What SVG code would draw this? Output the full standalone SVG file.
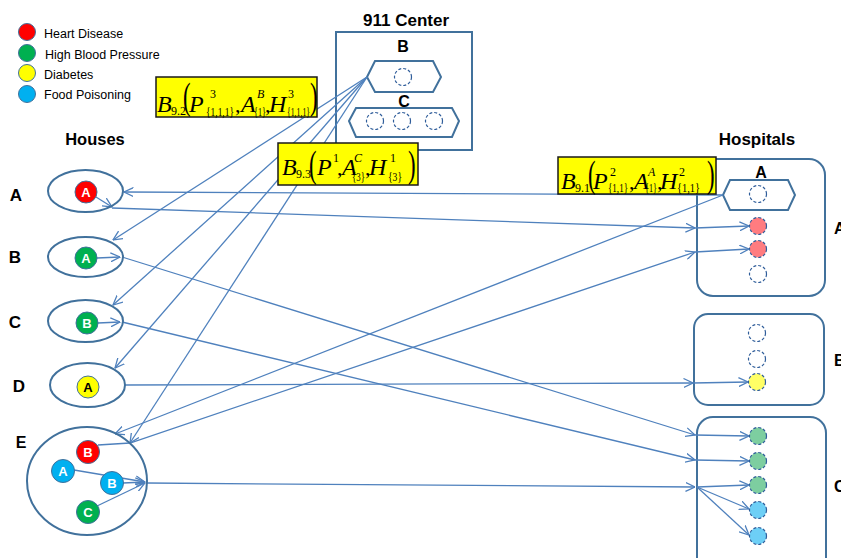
<svg xmlns="http://www.w3.org/2000/svg" width="841" height="558" viewBox="0 0 841 558">
<style>
.t{font-family:"Liberation Sans","Noto Sans",sans-serif;fill:#000}
.b{font-weight:bold}
.lg{font-size:12.5px}
.box{fill:none;stroke:#41719C;stroke-width:2}
.hex{fill:#fff;stroke:#41719C;stroke-width:2}
.el{fill:none;stroke:#41719C;stroke-width:2}
.dc{stroke:#2F5D9A;stroke-width:1.2;stroke-dasharray:3 2}
.cn{fill:none;stroke:#4F81BD;stroke-width:1.3}
.sc{stroke:#41719C;stroke-width:1}
.ct{font-family:"Liberation Sans","Noto Sans",sans-serif;font-weight:bold;font-size:13px;text-anchor:middle;fill:#fff}
.yl{fill:#FFFF00;stroke:#1a1a1a;stroke-width:1.5}
.m{font-family:"Liberation Serif","DejaVu Serif",serif;fill:#000}
.mi{font-style:italic;font-size:24px}
.mu{font-size:22px}
.ms{font-size:12px}
.mb{font-size:11.5px}
.mp{font-size:38px}
</style>
<defs>
<marker id="ar" viewBox="0 0 10 10" refX="9.5" refY="5" markerWidth="10" markerHeight="10" markerUnits="userSpaceOnUse" orient="auto">
<path d="M0,0.5 L9.5,5 L0,9.5" fill="none" stroke="#4F81BD" stroke-width="1.3"/>
</marker>
</defs>

<g id="legend">
<circle cx="27" cy="32" r="8.5" fill="#FF0000" class="sc"/>
<circle cx="27" cy="53" r="8.5" fill="#00B050" class="sc"/>
<circle cx="27" cy="73" r="8.5" fill="#FFFF00" class="sc"/>
<circle cx="27" cy="94" r="8.5" fill="#00B0F0" class="sc"/>
<text class="t lg" x="44" y="37.5">Heart Disease</text>
<text class="t lg" x="45" y="58.5">High Blood Pressure</text>
<text class="t lg" x="44" y="78.5">Diabetes</text>
<text class="t lg" x="44" y="98.5">Food Poisoning</text>
</g>

<g id="center911">
<text class="t b" x="406" y="26" font-size="17" text-anchor="middle">911 Center</text>
<rect class="box" x="336" y="32" width="136" height="118"/>
<text class="t b" x="403" y="52" font-size="16" text-anchor="middle">B</text>
<polygon class="hex" points="367,77 375,61 433,61 441,77 433,92 375,92"/>
<circle cx="403" cy="77" r="8.5" fill="none" class="dc"/>
<text class="t b" x="404" y="107" font-size="16" text-anchor="middle">C</text>
<polygon class="hex" points="349,121 356,108 452,108 459,121 452,137 356,137"/>
<circle cx="375" cy="121" r="8.5" fill="none" class="dc"/>
<circle cx="402" cy="121" r="8.5" fill="none" class="dc"/>
<circle cx="434" cy="121" r="8.5" fill="none" class="dc"/>
</g>

<g id="hospitalA">
<text class="t b" x="757" y="145" font-size="17" text-anchor="middle">Hospitals</text>
<rect class="box" x="697" y="159" width="128" height="137" rx="16"/>
<text class="t b" x="761" y="178" font-size="16" text-anchor="middle">A</text>
<polygon class="hex" points="723,195 730,180 788,180 795,195 788,210 730,210"/>
<circle cx="758" cy="194" r="8.5" fill="none" class="dc"/>
<circle cx="758" cy="226" r="8.5" fill="#FF7C80" class="dc"/>
<circle cx="758" cy="249" r="8.5" fill="#FF7C80" class="dc"/>
<circle cx="758" cy="274" r="8.5" fill="none" class="dc"/>
<text class="t b" x="834" y="234" font-size="16">A</text>
</g>

<g id="hospitalB">
<rect class="box" x="694" y="314" width="130" height="91" rx="14"/>
<circle cx="757" cy="333" r="8.5" fill="none" class="dc"/>
<circle cx="757" cy="359" r="8.5" fill="none" class="dc"/>
<circle cx="757" cy="382" r="8.5" fill="#FFFF66" class="dc"/>
<text class="t b" x="834" y="366" font-size="16">B</text>
</g>

<g id="hospitalC">
<rect class="box" x="697" y="417" width="129" height="160" rx="16"/>
<circle cx="758" cy="436" r="8.5" fill="#7DCEA0" class="dc"/>
<circle cx="758" cy="461" r="8.5" fill="#7DCEA0" class="dc"/>
<circle cx="758" cy="485" r="8.5" fill="#7DCEA0" class="dc"/>
<circle cx="758" cy="510" r="8.5" fill="#6DCFF6" class="dc"/>
<circle cx="758" cy="536" r="8.5" fill="#6DCFF6" class="dc"/>
<text class="t b" x="834" y="492" font-size="16">C</text>
</g>

<g id="connectors" class="cn" marker-end="url(#ar)">
<path d="M367,77 L113,240"/>
<path d="M367,77 L113,305"/>
<path d="M367,77 L115,368"/>
<path d="M367,77 L130,443"/>
<path d="M723,195 L124,192"/>
<path d="M723,195 L115,434"/>
<path d="M96,197 L112,207"/>
<path d="M112,208 L695,228"/>
<path d="M695,228 L749,226"/>
<path d="M97,258 L120,257"/>
<path d="M122,257 L695,435"/>
<path d="M695,435 L749,436"/>
<path d="M98,323 L120,322"/>
<path d="M122,322 L695,460"/>
<path d="M695,460 L749,461"/>
<path d="M125,385 L693,383"/>
<path d="M693,383 L748,382"/>
<path d="M98,445 L130,443 L695,252"/>
<path d="M695,252 L749,249"/>
<path d="M74,470 L145,482"/>
<path d="M123,483 L145,482"/>
<path d="M97,506 L145,483"/>
<path d="M147,483 L695,487"/>
<path d="M697,487 L749,485"/>
<path d="M697,487 L749,509"/>
<path d="M697,487 L749,535"/>
</g>

<g id="houses-title">
<text class="t b" x="95" y="145" font-size="16.5" text-anchor="middle">Houses</text>
</g>

<g id="houseA">
<text class="t b" x="16" y="201" font-size="17" text-anchor="middle">A</text>
<ellipse class="el" cx="85.5" cy="191" rx="37.5" ry="21"/>
<circle cx="86" cy="192" r="11" fill="#FF0000" class="sc"/>
<text class="ct" x="86" y="196.5">A</text>
</g>

<g id="houseB">
<text class="t b" x="15" y="263" font-size="17" text-anchor="middle">B</text>
<ellipse class="el" cx="85.5" cy="257" rx="37.5" ry="20"/>
<circle cx="86" cy="258" r="11" fill="#00B050" class="sc"/>
<text class="ct" x="86" y="262.5">A</text>
</g>

<g id="houseC">
<text class="t b" x="15" y="328" font-size="17" text-anchor="middle">C</text>
<ellipse class="el" cx="85.5" cy="321" rx="37.5" ry="21"/>
<circle cx="87" cy="323" r="11" fill="#00B050" class="sc"/>
<text class="ct" x="87" y="327.5">B</text>
</g>

<g id="houseD">
<text class="t b" x="19" y="392" font-size="17" text-anchor="middle">D</text>
<ellipse class="el" cx="87.5" cy="385" rx="37.5" ry="22"/>
<circle cx="88" cy="387" r="11" fill="#FFFF00" class="sc"/>
<text class="ct" x="88" y="391.5" style="fill:#000">A</text>
</g>

<g id="houseE">
<text class="t b" x="21" y="448" font-size="16" text-anchor="middle">E</text>
<ellipse class="el" cx="87" cy="481" rx="60" ry="54"/>
<circle cx="88" cy="452" r="11.5" fill="#FF0000" class="sc"/>
<text class="ct" x="88" y="456.5">B</text>
<circle cx="63" cy="471" r="11.5" fill="#00B0F0" class="sc"/>
<text class="ct" x="63" y="475.5">A</text>
<circle cx="112" cy="483" r="11.5" fill="#00B0F0" class="sc"/>
<text class="ct" x="112" y="487.5">B</text>
<circle cx="88" cy="512" r="11.5" fill="#00B050" class="sc"/>
<text class="ct" x="88" y="516.5">C</text>
</g>

<g id="label-B92">
<rect class="yl" x="156" y="77" width="161" height="40"/>
<text class="m mi" x="157" y="112">B</text>
<text class="m ms" x="171" y="115">9.2</text>
<text class="m mp" transform="translate(183,109) scale(0.6,1)">(</text>
<text class="m mi" x="189" y="112">P</text>
<text class="m ms" x="210" y="98">3</text>
<text class="m mb" x="206" y="116" textLength="28" lengthAdjust="spacingAndGlyphs">{1,1,1}</text>
<text class="m mu" x="235" y="112">,</text>
<text class="m mi" x="241" y="112">A</text>
<text class="m ms" x="257" y="98" font-style="italic">B</text>
<text class="m mb" x="254" y="116" textLength="12" lengthAdjust="spacingAndGlyphs">{1}</text>
<text class="m mu" x="265" y="112">,</text>
<text class="m mi" x="269" y="112">H</text>
<text class="m ms" x="288" y="98">3</text>
<text class="m mb" x="287" y="116" textLength="23" lengthAdjust="spacingAndGlyphs">{1,1,1}</text>
<text class="m mp" transform="translate(310,109) scale(0.6,1)">)</text>
</g>

<g id="label-B93">
<rect class="yl" x="278" y="143" width="140" height="42"/>
<text class="m mi" x="282" y="175">B</text>
<text class="m ms" x="296" y="178">9.3</text>
<text class="m mp" transform="translate(309,177) scale(0.6,1)">(</text>
<text class="m mi" x="317" y="175">P</text>
<text class="m ms" x="333" y="162">1</text>
<text class="m mu" x="337" y="175">,</text>
<text class="m mi" x="342" y="175">A</text>
<text class="m ms" x="354" y="162" font-style="italic">C</text>
<text class="m mb" x="352" y="181" textLength="13" lengthAdjust="spacingAndGlyphs">{3}</text>
<text class="m mu" x="365" y="175">,</text>
<text class="m mi" x="369" y="175">H</text>
<text class="m ms" x="390" y="162">1</text>
<text class="m mb" x="388" y="181" textLength="14" lengthAdjust="spacingAndGlyphs">{3}</text>
<text class="m mp" transform="translate(408,177) scale(0.6,1)">)</text>
</g>

<g id="label-B91">
<rect class="yl" x="558" y="157" width="158" height="37"/>
<text class="m mi" x="561" y="189">B</text>
<text class="m ms" x="575" y="192">9.1</text>
<text class="m mp" transform="translate(588,187) scale(0.6,1)">(</text>
<text class="m mi" x="593" y="189">P</text>
<text class="m ms" x="610" y="176">2</text>
<text class="m mb" x="608" y="192" textLength="20" lengthAdjust="spacingAndGlyphs">{1,1}</text>
<text class="m mu" x="629" y="189">,</text>
<text class="m mi" x="634" y="189">A</text>
<text class="m ms" x="648" y="176" font-style="italic">A</text>
<text class="m mb" x="645" y="192" textLength="12" lengthAdjust="spacingAndGlyphs">{1}</text>
<text class="m mu" x="657" y="189">,</text>
<text class="m mi" x="660" y="189">H</text>
<text class="m ms" x="679" y="176">2</text>
<text class="m mb" x="677" y="192" textLength="23" lengthAdjust="spacingAndGlyphs">{1,1}</text>
<text class="m mp" transform="translate(707,187) scale(0.6,1)">)</text>
</g>
</svg>
